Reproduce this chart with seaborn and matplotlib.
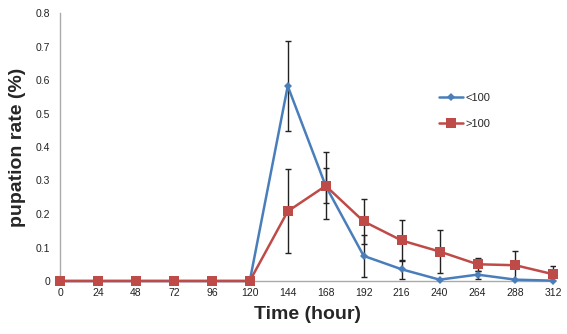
import matplotlib
matplotlib.use("Agg")
import matplotlib.pyplot as plt
import seaborn as sns
import pandas as pd
import numpy as np

time_h = [0, 24, 48, 72, 96, 120, 144, 168, 192, 216, 240, 264, 288, 312]
low_vals = [0, 0, 0, 0, 0, 0, 0.582, 0.284, 0.075, 0.035, 0.004, 0.019, 0.004, 0.001]
low_err = [0, 0, 0, 0, 0, 0, 0.134, 0.052, 0.063, 0.028, 0, 0.012, 0, 0]
high_vals = [0, 0, 0, 0, 0, 0, 0.208, 0.284, 0.178, 0.121, 0.088, 0.05, 0.047, 0.02]
high_err = [0, 0, 0, 0, 0, 0, 0.125, 0.1, 0.067, 0.06, 0.063, 0.019, 0.043, 0.024]
series_names = ["<100", ">100"]
y_ticks = [0, 0.1, 0.2, 0.3, 0.4, 0.5, 0.6, 0.7, 0.8]

sns.set_theme(style="white")
plt.rcParams['font.family'] = ['Liberation Sans', 'DejaVu Sans']

df = pd.DataFrame({
    "time": time_h * 2,
    "rate": low_vals + high_vals,
    "group": [series_names[0]] * len(time_h) + [series_names[1]] * len(time_h),
})

fig = plt.figure(figsize=(5.67, 3.34), dpi=100)
ax = fig.add_axes([60/567, 1 - 281/334, (555-60)/567, (281-13)/334])

blue = "#4a7ebb"
red = "#be4b48"

# error bars
for vals, errs in [(low_vals, low_err), (high_vals, high_err)]:
    t = [x for x, e in zip(time_h, errs) if e > 0]
    v = [y for y, e in zip(vals, errs) if e > 0]
    e = [e for e in errs if e > 0]
    ax.errorbar(t, v, yerr=e, fmt="none", ecolor="#222222", elinewidth=1.0,
                capsize=2.5, capthick=1.0, zorder=2)

sns.lineplot(data=df, x="time", y="rate", hue="group", style="group",
             palette={series_names[0]: blue, series_names[1]: red},
             markers={series_names[0]: "D", series_names[1]: "s"},
             dashes=False, linewidth=1.8, ax=ax, zorder=3,
             markeredgewidth=0)
for line in ax.lines:
    if line.get_marker() == "D":
        line.set_markersize(4)
        line.set_clip_on(False)
    elif line.get_marker() == "s":
        line.set_markersize(6.5)
        line.set_clip_on(False)

ax.set_xlim(0, 313)
ax.set_ylim(0, 0.8)
ax.set_xticks(time_h)
ax.set_xticklabels([str(t) for t in time_h], fontsize=7.5, color="#222222")
ax.set_yticks(y_ticks)
ax.set_yticklabels(["0" if t == 0 else f"{t:.1f}" for t in y_ticks], fontsize=7.5, color="#222222")
ax.tick_params(axis="both", direction="out", length=3, width=0.8, color="#999999", pad=2)
ax.tick_params(axis="y", pad=4)

for s in ["top", "right"]:
    ax.spines[s].set_visible(False)
for s in ["left", "bottom"]:
    ax.spines[s].set_color("#aaaaaa")
    ax.spines[s].set_linewidth(1.0)

ax.set_xlabel("Time (hour)", fontsize=14, fontweight="bold", labelpad=6)
ax.set_ylabel("pupation rate (%)", fontsize=14, fontweight="bold", labelpad=7)

leg = ax.legend(loc="upper left", bbox_to_anchor=(0.745, 0.74), frameon=False,
                fontsize=8, handlelength=2.2, handletextpad=0.2, labelspacing=1.45)

fig.savefig("out.png", dpi=100)
